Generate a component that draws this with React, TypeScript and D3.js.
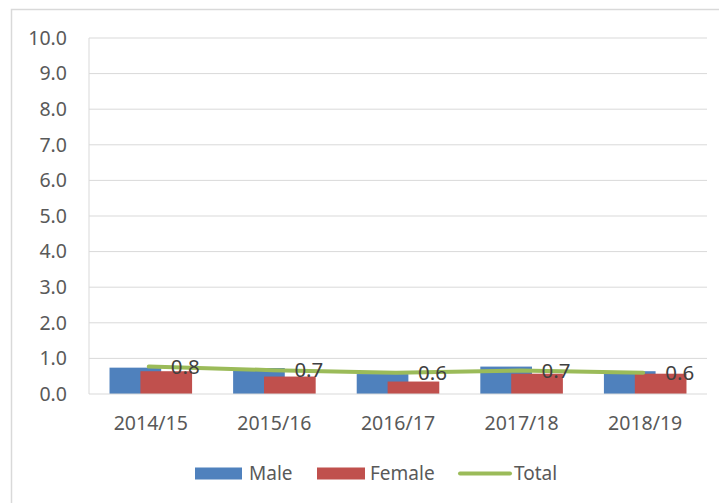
import React from "react";
import * as d3 from "d3";

const categories = ["2014/15", "2015/16", "2016/17", "2017/18", "2018/19"];
const maleValues = [0.74, 0.73, 0.56, 0.77, 0.64];
const femaleValues = [0.64, 0.49, 0.35, 0.57, 0.57];
const totalValues = [0.77, 0.67, 0.6, 0.66, 0.6];
const yTicks = [0, 1, 2, 3, 4, 5, 6, 7, 8, 9, 10];

const W = 719;
const H = 503;
const plot = { left: 89, right: 707, top: 38, bottom: 394 };
const FONT = "'Noto Sans', sans-serif";

export default function App() {
  const x = d3.scaleBand<string>().domain(categories).range([plot.left, plot.right]);
  const y = d3.scaleLinear().domain([0, 10]).range([plot.bottom, plot.top]);
  const bw = x.bandwidth();
  const barW = bw * 0.418;
  const offset = bw * 0.25;
  const clusterW = offset + barW;
  const line = d3
    .line<number>()
    .x((_, i) => (x(categories[i]) as number) + bw / 2 - 2)
    .y((d) => y(d));

  return (
    <svg width={W} height={H} style={{ position: "absolute", left: 0, top: 0, background: "#fff" }}>
      <rect x={11.5} y={9.5} width={720} height={510} fill="#fff" stroke="#d9d9d9" strokeWidth={1.5} />
      {yTicks.map((t) => (
        <g key={t}>
          {t > 0 && (
            <line x1={plot.left} x2={plot.right} y1={y(t)} y2={y(t)} stroke="#d9d9d9" strokeWidth={1} />
          )}
          <text
            x={67}
            y={y(t)}
            dy="0.35em"
            textAnchor="end"
            fontFamily={FONT}
            fontSize={19.5}
            fill="#595959"
          >
            {t.toFixed(1)}
          </text>
        </g>
      ))}
      <line x1={plot.left} x2={plot.left} y1={plot.top} y2={plot.bottom} stroke="#d9d9d9" strokeWidth={1} />
      {categories.map((c, i) => {
        const x0 = (x(c) as number) + (bw - clusterW) / 2;
        return (
          <g key={c}>
            <rect x={x0} y={y(maleValues[i])} width={barW} height={plot.bottom - y(maleValues[i])} fill="#4F81BD" />
            <rect
              x={x0 + offset}
              y={y(femaleValues[i])}
              width={barW}
              height={plot.bottom - y(femaleValues[i])}
              fill="#C0504D"
            />
            <text
              x={(x(c) as number) + bw / 2}
              y={430}
              textAnchor="middle"
              fontFamily={FONT}
              fontSize={19.5}
              fill="#595959"
            >
              {c}
            </text>
          </g>
        );
      })}
      <line x1={plot.left} x2={plot.right} y1={plot.bottom} y2={plot.bottom} stroke="#d9d9d9" strokeWidth={1} />
      <path d={line(totalValues) || ""} fill="none" stroke="#9BBB59" strokeWidth={4} strokeLinecap="round" />
      {totalValues.map((v, i) => (
        <text
          key={i}
          x={(x(categories[i]) as number) + bw / 2 + 20}
          y={y(v)}
          dy="0.35em"
          fontFamily={FONT}
          fontSize={20.5}
          fill="#404040"
        >
          {v.toFixed(1)}
        </text>
      ))}
      <g fontFamily={FONT} fontSize={19} fill="#595959">
        <rect x={195} y={467.5} width={47} height={12} fill="#4F81BD" />
        <text x={249} y={473.5} dy="0.35em">Male</text>
        <rect x={317} y={467.5} width={48} height={12} fill="#C0504D" />
        <text x={370} y={473.5} dy="0.35em">Female</text>
        <line x1={460} x2={510} y1={473.5} y2={473.5} stroke="#9BBB59" strokeWidth={4} strokeLinecap="round" />
        <text x={514} y={473.5} dy="0.35em">Total</text>
      </g>
    </svg>
  );
}
